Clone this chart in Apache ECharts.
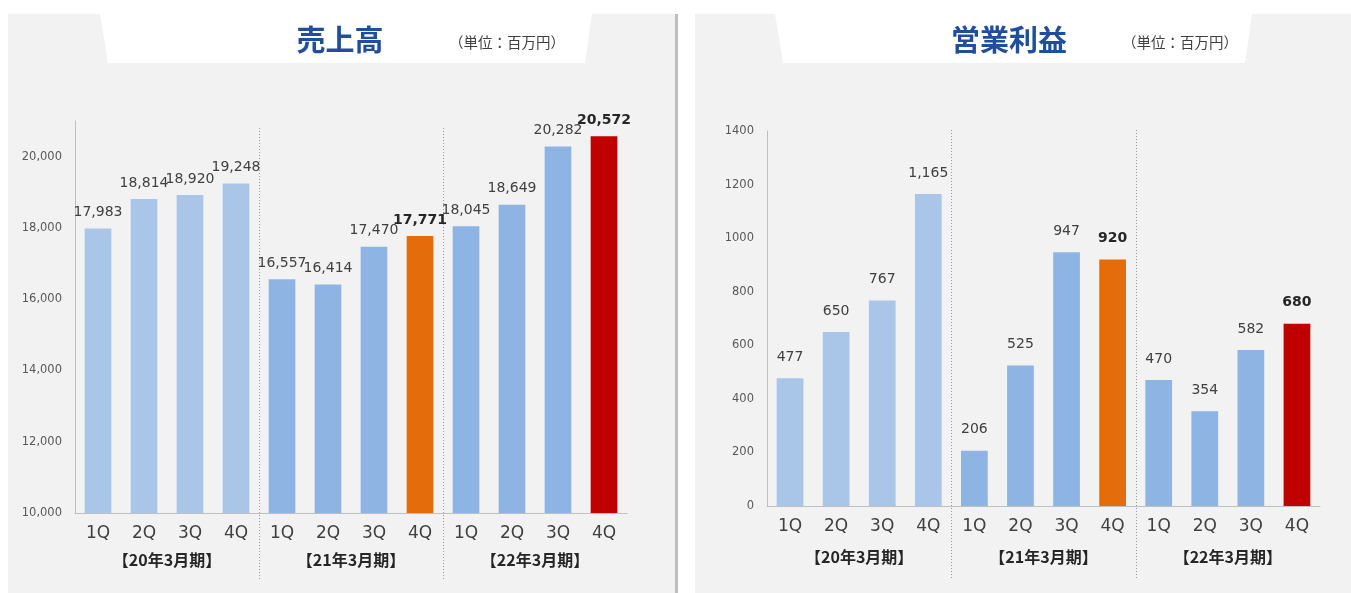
<!DOCTYPE html>
<html>
<head>
<meta charset="utf-8">
<script src="https://cdn.jsdelivr.net/npm/echarts@6/dist/echarts.min.js"></script>
<style>
  html, body { margin: 0; padding: 0; background: #ffffff; }
  #chart { width: 1351px; height: 593px; }
</style>
</head>
<body>
<div id="chart"></div>
<script>
// ---- data ----
const quarters = ['1Q', '2Q', '3Q', '4Q', '1Q', '2Q', '3Q', '4Q', '1Q', '2Q', '3Q', '4Q'];
const fiscalYears = ['【20年3月期】', '【21年3月期】', '【22年3月期】'];
const salesValues = [17983, 18814, 18920, 19248, 16557, 16414, 17470, 17771, 18045, 18649, 20282, 20572];
const profitValues = [477, 650, 767, 1165, 206, 525, 947, 920, 470, 354, 582, 680];
const salesAxis = { min: 10000, max: 21000, interval: 2000 };
const profitAxis = { min: 0, max: 1400, interval: 200 };
const panelTitles = ['売上高', '営業利益'];
const unitLabel = '（単位：百万円）';

// ---- styles ----
const COLOR_PREV = '#a9c5e8';
const COLOR_CUR = '#8db4e2';
const COLOR_ORANGE = '#e46c0a';
const COLOR_RED = '#c00000';
const TITLE_BLUE = '#1f4e9e';
const PANEL_BG = '#f2f2f2';
const NUM_FONT = '"DejaVu Sans", Verdana, sans-serif';
const JP_FONT = '"Noto Sans CJK JP", "Noto Sans", sans-serif';

const perYear = 4;
function isHighlight(i) {
  const g = Math.floor(i / perYear);
  return i % perYear === perYear - 1 && g > 0;
}
function barColor(i) {
  const g = Math.floor(i / perYear);
  if (isHighlight(i)) return g === 1 ? COLOR_ORANGE : COLOR_RED;
  return g === 0 ? COLOR_PREV : COLOR_CUR;
}
function buildData(values, dist) {
  return values.map((v, i) => ({
    value: v,
    itemStyle: { color: barColor(i) },
    label: {
      fontWeight: isHighlight(i) ? 'bold' : 'normal',
      color: isHighlight(i) ? '#262626' : '#404040',
      distance: dist
    }
  }));
}
const fmt = v => Number(v).toLocaleString('en-US');

const chart = echarts.init(document.getElementById('chart'), null, { renderer: 'canvas' });

const grids = [
  { left: 75, top: 121, width: 552, height: 392 },
  { left: 767, top: 131, width: 553, height: 375 }
];

function quarterAxis(gridIndex) {
  return {
    type: 'category', gridIndex, data: quarters,
    axisLine: { show: true, lineStyle: { color: '#bfbfbf', width: 1 } },
    axisTick: { show: false },
    axisLabel: { color: '#404040', fontSize: 17, fontFamily: NUM_FONT, margin: 12 }
  };
}
function yearAxis(gridIndex, margin) {
  return {
    type: 'category', gridIndex, data: fiscalYears, position: 'bottom',
    axisLine: { show: false }, axisTick: { show: false }, splitLine: { show: false },
    axisLabel: { color: '#262626', fontSize: 16, fontWeight: 'bold', fontFamily: JP_FONT, margin }
  };
}
function valueAxis(gridIndex, scale) {
  return {
    type: 'value', gridIndex, min: scale.min, max: scale.max, interval: scale.interval,
    axisLine: { show: true, lineStyle: { color: '#bfbfbf', width: 1 } },
    axisTick: { show: false },
    splitLine: { show: false },
    axisLabel: {
      color: '#595959', fontSize: 11.5, fontFamily: NUM_FONT, margin: 13,
      showMaxLabel: scale.max % scale.interval === 0,
      formatter: v => (scale.max >= 10000 ? fmt(v) : String(v))
    }
  };
}
function barSeries(xAxisIndex, yAxisIndex, values, dist) {
  return {
    type: 'bar', xAxisIndex, yAxisIndex, barWidth: '58%',
    data: buildData(values, dist),
    label: {
      show: true, position: 'top', fontSize: 14, fontFamily: NUM_FONT,
      formatter: p => fmt(p.value)
    },
    emphasis: { disabled: true },
    animation: false
  };
}

// panel backgrounds, header tabs, titles
const staticGraphics = [
  { type: 'rect', silent: true, z: -10, shape: { x: 8, y: 14, width: 667, height: 579 }, style: { fill: PANEL_BG } },
  { type: 'rect', silent: true, z: -10, shape: { x: 675, y: 14, width: 3, height: 579 }, style: { fill: '#bdbdbd' } },
  { type: 'rect', silent: true, z: -10, shape: { x: 695, y: 14, width: 656, height: 579 }, style: { fill: PANEL_BG } },
  { type: 'polygon', silent: true, z: -9, shape: { points: [[100, 14], [592, 14], [585, 63], [108, 63]] }, style: { fill: '#ffffff' } },
  { type: 'polygon', silent: true, z: -9, shape: { points: [[775, 14], [1252, 14], [1245, 63], [783, 63]] }, style: { fill: '#ffffff' } },
  { type: 'text', silent: true, x: 340, y: 40, style: { text: panelTitles[0], fill: TITLE_BLUE, font: 'bold 29px ' + JP_FONT, textAlign: 'center', textVerticalAlign: 'middle' } },
  { type: 'text', silent: true, x: 507, y: 42, style: { text: unitLabel, fill: '#404040', font: '14.5px ' + JP_FONT, textAlign: 'center', textVerticalAlign: 'middle' } },
  { type: 'text', silent: true, x: 1009, y: 40, style: { text: panelTitles[1], fill: TITLE_BLUE, font: 'bold 29px ' + JP_FONT, textAlign: 'center', textVerticalAlign: 'middle' } },
  { type: 'text', silent: true, x: 1180, y: 42, style: { text: unitLabel, fill: '#404040', font: '14.5px ' + JP_FONT, textAlign: 'center', textVerticalAlign: 'middle' } }
];

chart.setOption({
  animation: false,
  grid: grids,
  xAxis: [quarterAxis(0), yearAxis(0, 39), quarterAxis(1), yearAxis(1, 43)],
  yAxis: [valueAxis(0, salesAxis), valueAxis(1, profitAxis)],
  series: [
    barSeries(0, 0, salesValues, 9),
    barSeries(2, 1, profitValues, 14)
  ],
  graphic: staticGraphics
});

// dotted separators between fiscal years, placed at category boundaries
const sepGraphics = [];
[[0, 128, 580], [2, 130, 580]].forEach(([axisIdx, y1, y2]) => {
  for (let g = 1; g < fiscalYears.length; g++) {
    const i = g * perYear;
    const a = chart.convertToPixel({ xAxisIndex: axisIdx }, i - 1);
    const b = chart.convertToPixel({ xAxisIndex: axisIdx }, i);
    const x = Math.round((a + b) / 2) + 0.5;
    sepGraphics.push({
      type: 'line', silent: true, z: 1,
      shape: { x1: x, y1, x2: x, y2 },
      style: { stroke: '#9a9a9a', lineWidth: 1, lineDash: [1, 2] }
    });
  }
});
chart.setOption({ graphic: staticGraphics.concat(sepGraphics) });
</script>
</body>
</html>
